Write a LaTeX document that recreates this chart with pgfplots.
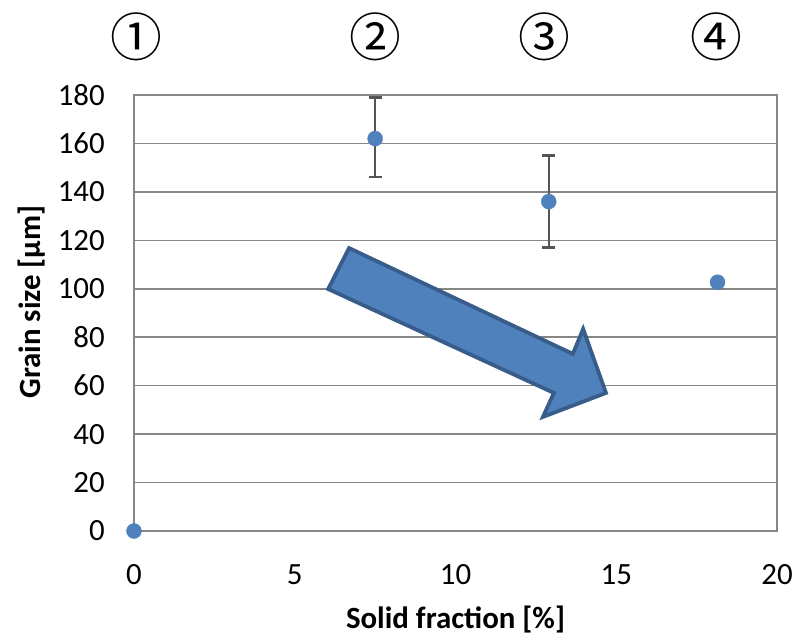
\documentclass[border=0pt]{standalone}
\usepackage{fontspec}
\setmainfont{Carlito}
\newfontfamily\cjk{Noto Sans CJK JP}
\usepackage{pgfplots}
\pgfplotsset{compat=1.18}
\definecolor{mk}{HTML}{4F81BD}
\definecolor{ar}{HTML}{385D8A}
\definecolor{gr}{HTML}{868686}
\definecolor{eb}{HTML}{555555}
\begin{document}
\begin{tikzpicture}
\useasboundingbox (0,0) rectangle (808bp,640bp);
\begin{axis}[
 at={(134bp,109bp)}, anchor=south west,
 scale only axis, width=643bp, height=436bp,
 xmin=0,xmax=20,ymin=0,ymax=180,
 xtick={0,5,...,20}, ytick={0,20,...,180},
 ymajorgrids, grid style={gr, line width=1.5bp},
 axis line style={gr, line width=1.5bp},
 major tick length=0,
 clip=false,
 /pgf/number format/assume math mode=true,
 ticklabel style={font=\fontsize{31}{37}\selectfont, inner sep=0pt},
 yticklabel style={anchor=east, xshift=-29bp},
 xticklabel style={anchor=north, yshift=-33bp},
 xlabel={Solid fraction [\%]},
 ylabel={Grain size [µm]},
 label style={font=\fontsize{31}{37}\selectfont\bfseries},
 xlabel style={at={(axis description cs:0.5,-0.204)}, anchor=center},
 ylabel style={at={(axis description cs:-0.159,0.525)}, anchor=center},
]
\addplot[draw=none, mark=none, forget plot,
  error bars/.cd, y dir=both, y explicit,
  error bar style={eb, line width=2.2bp},
  error mark options={eb, rotate=90, mark size=6.5bp, line width=2.2bp}]
  coordinates {(7.5,162) += (0,17) -= (0,16) (12.9,136) += (0,19) -= (0,19)};
\addplot[only marks, mark=*, mark size=7.5bp, mark options={draw=mk, fill=mk}]
  coordinates {(0,0) (7.5,162) (12.9,136) (18.15,102.7)};
\filldraw[fill=mk, draw=ar, line width=3.8bp, line join=miter]
  (axis cs:6.69,116.8) -- (axis cs:13.65,73.1) -- (axis cs:13.97,83.4) -- (axis cs:14.68,57.0)
  -- (axis cs:12.72,47.1) -- (axis cs:13.06,57.0) -- (axis cs:6.04,99.9) -- cycle;
\node[font=\cjk\fontsize{52}{58}\selectfont] at (axis cs:0.06,204.0) {①};
\node[font=\cjk\fontsize{52}{58}\selectfont] at (axis cs:7.5,204.0) {②};
\node[font=\cjk\fontsize{52}{58}\selectfont] at (axis cs:12.78,204.0) {③};
\node[font=\cjk\fontsize{52}{58}\selectfont] at (axis cs:18.1,204.0) {④};
\end{axis}
\end{tikzpicture}
\end{document}
